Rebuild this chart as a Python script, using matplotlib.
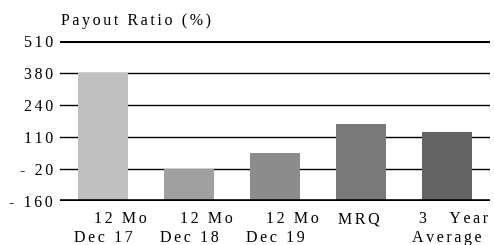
import numpy as np
import matplotlib
matplotlib.use("Agg")
import matplotlib.pyplot as plt

# values
top_lines = ["12 Mo", "12 Mo", "12 Mo", "MRQ", "3   Year"]
bottom_lines = ["Dec 17", "Dec 18", "Dec 19", "", "Average"]
payout = [376, -26, 41, 162, 129]
bar_colors = ["#c0c0c0", "#a0a0a0", "#8c8c8c", "#7a7a7a", "#646464"]
tick_labels = ["- 160", "- 20", "110", "240", "380", "510"]

plt.rcParams["font.family"] = ["Liberation Serif", "DejaVu Serif"]
FS = 11.5


def spaced(s):
    # the original is drawn with wide letter spacing
    return "\u2006".join(s)


fig = plt.figure(figsize=(4.94, 2.45), dpi=100)
ax = fig.add_axes([60 / 494, 1 - 201 / 245, 430 / 494, 160 / 245])

ymin, ymax = -160, 510
ticks = np.linspace(ymin, ymax, len(tick_labels))
x = np.arange(len(payout))

for t in ticks[1:-1]:
    ax.axhline(t, color="black", linewidth=1, zorder=1)
ax.axhline(ymax, color="black", linewidth=2.2, zorder=1)
ax.axhline(ymin, color="black", linewidth=2.6, zorder=3)

ax.bar(x, np.array(payout) - ymin, bottom=ymin, width=0.57, color=bar_colors, zorder=2)

ax.set_xlim(-0.5, len(payout) - 0.5)
ax.set_ylim(ymin, ymax)
ax.set_yticks(ticks)
ax.set_yticklabels([spaced(t) for t in tick_labels], fontsize=FS)
ax.tick_params(axis="y", length=0, pad=5)
ax.set_xticks([])
for s in ax.spines.values():
    s.set_visible(False)

# category labels, two lines each
trans = ax.get_xaxis_transform()
top_shift = [0.2, 0.2, 0.2, -0.02, 0.08]
for i in range(len(payout)):
    ax.text(x[i] + top_shift[i], -0.065, spaced(top_lines[i]), transform=trans,
            ha="center", va="top", fontsize=FS)
    if bottom_lines[i]:
        ax.text(x[i], -0.18, spaced(bottom_lines[i]), transform=trans,
                ha="center", va="top", fontsize=FS)

fig.text(61 / 494, 1 - 21 / 245, spaced("Payout Ratio (%)"), fontsize=FS, va="center", ha="left")

fig.savefig("out.png", dpi=100)
